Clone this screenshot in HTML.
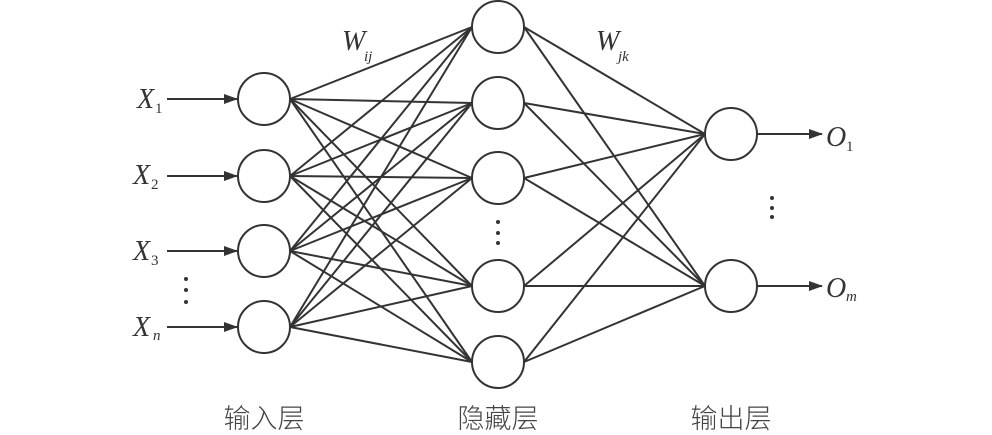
<!DOCTYPE html>
<html><head><meta charset="utf-8"><style>
html,body{margin:0;padding:0;background:#fff;}
svg{display:block;}
.l{font-family:"Liberation Serif",serif;font-style:italic;fill:#333;}
.c{font-family:"Liberation Sans","Noto Sans CJK SC",sans-serif;fill:#444;font-size:27px;font-weight:300;}
</style></head><body>
<svg width="992" height="435" viewBox="0 0 992 435" xmlns="http://www.w3.org/2000/svg">
<defs><marker id="a" markerWidth="14" markerHeight="10" refX="13" refY="5" orient="auto" markerUnits="userSpaceOnUse"><path d="M0,0 L14,5 L0,10 z" fill="#333"/></marker></defs>
<g stroke="#333" stroke-width="2" fill="none">
<g id="ih">
</g>
</g>
<script>
var ns="http://www.w3.org/2000/svg",g=document.getElementById("ih");
var I=[99,176,251,327],H=[27,103,178,286,362],O=[134,286];
function ln(x1,y1,x2,y2){var l=document.createElementNS(ns,"line");l.setAttribute("x1",x1);l.setAttribute("y1",y1);l.setAttribute("x2",x2);l.setAttribute("y2",y2);g.appendChild(l);}
I.forEach(function(a){H.forEach(function(b){ln(290,a,472,b);});});
H.forEach(function(a){O.forEach(function(b){ln(524,a,705,b);});});
</script>
<g stroke="#333" stroke-width="2" fill="#fff">
<circle cx="264" cy="99" r="26"/><circle cx="264" cy="176" r="26"/><circle cx="264" cy="251" r="26"/><circle cx="264" cy="327" r="26"/>
<circle cx="498" cy="27" r="26"/><circle cx="498" cy="103" r="26"/><circle cx="498" cy="178" r="26"/><circle cx="498" cy="286" r="26"/><circle cx="498" cy="362" r="26"/>
<circle cx="731" cy="134" r="26"/><circle cx="731" cy="286" r="26"/>
</g>
<g stroke="#333" stroke-width="2" marker-end="url(#a)">
<line x1="167" y1="99" x2="237" y2="99"/><line x1="167" y1="176" x2="237" y2="176"/><line x1="167" y1="251" x2="237" y2="251"/><line x1="167" y1="327" x2="237" y2="327"/>
<line x1="757" y1="134" x2="822" y2="134"/><line x1="757" y1="286" x2="822" y2="286"/>
</g>
<g fill="#333">
<circle cx="186" cy="279" r="2"/><circle cx="186" cy="290" r="2"/><circle cx="186" cy="302" r="2"/>
<circle cx="498" cy="222" r="2"/><circle cx="498" cy="233" r="2"/><circle cx="498" cy="243" r="2"/>
<circle cx="772" cy="198" r="2"/><circle cx="772" cy="208" r="2"/><circle cx="772" cy="217" r="2"/>
</g>
<g class="l">
<text x="137" y="108" font-size="28">X</text><text x="155" y="113" font-size="15" font-style="normal">1</text>
<text x="133" y="184" font-size="28">X</text><text x="151" y="189" font-size="15" font-style="normal">2</text>
<text x="133" y="260" font-size="28">X</text><text x="151" y="265" font-size="15" font-style="normal">3</text>
<text x="133" y="336" font-size="28">X</text><text x="153" y="340" font-size="15">n</text>
<text x="342" y="50" font-size="28">W</text><text x="364" y="61" font-size="15">ij</text>
<text x="596" y="50" font-size="28">W</text><text x="618" y="61" font-size="15">jk</text>
<text x="826" y="146" font-size="28">O</text><text x="846" y="151" font-size="15" font-style="normal">1</text>
<text x="826" y="297" font-size="28">O</text><text x="846" y="301" font-size="15">m</text>
</g>
<g class="c" text-anchor="middle">
<text x="264" y="428">输入层</text><text x="498" y="428">隐藏层</text><text x="731" y="428">输出层</text>
</g>
</svg>
</body></html>
